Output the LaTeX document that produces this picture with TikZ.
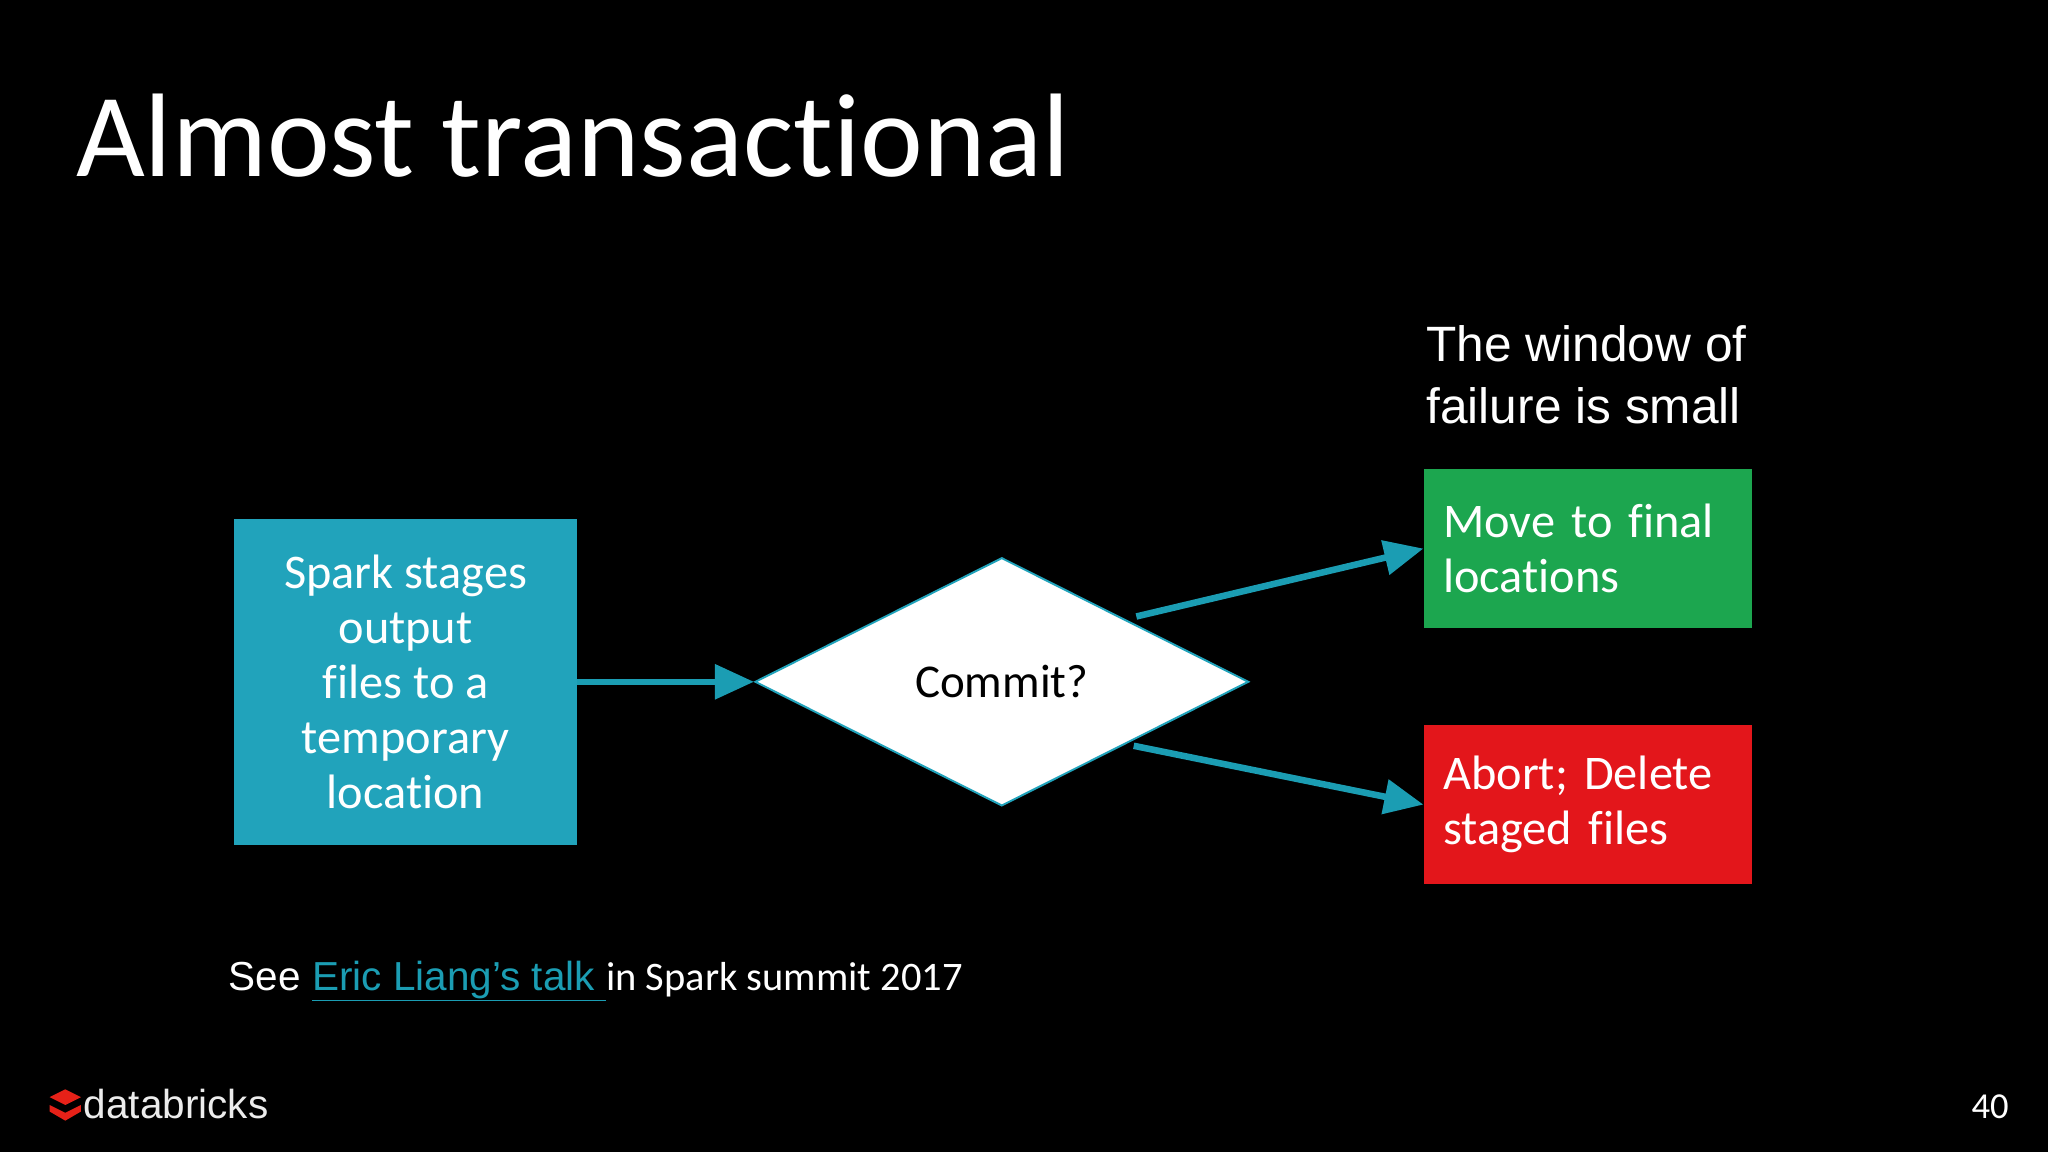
\documentclass[tikz,border=0pt]{standalone}
\usepackage{fontspec}
\setmainfont[Ligatures=NoCommon]{Carlito}
\newfontfamily\arial{Liberation Sans}
\usetikzlibrary{arrows.meta,shapes.geometric}
\definecolor{teal}{HTML}{21A3BB}
\definecolor{arr}{HTML}{1B9DB3}
\definecolor{grn}{HTML}{1CA64F}
\definecolor{rd}{HTML}{E3161B}
\begin{document}
\begin{tikzpicture}[x=1pt,y=-1pt,
  box/.style={minimum width=262pt,inner sep=0pt,text=white,font=\fontsize{37}{42}\selectfont},
  conn/.style={draw=arr,line width=5pt,-{Triangle[length=30pt,width=26pt]}}]
\fill[black] (0,0) rectangle (1568,882);
\useasboundingbox (0,0) rectangle (1568,882);
\node[anchor=base west,text=white,inner sep=0,font=\fontsize{91}{100}\selectfont] (title) at (58,135) {Almost transactional};
\node[box,fill=teal,minimum height=250pt,align=center] (src) at (310.5,522) {Spark stages\\output\\files to a\\temporary\\location};
\node[draw=teal,line width=1.5pt,fill=white,diamond,aspect=2,minimum width=378pt,minimum height=190pt,inner sep=0pt,font=\fontsize{36}{40}\selectfont] (dec) at (767,522) {Commit?};
\node[box,fill=grn,minimum width=251pt,minimum height=122pt,align=left,text width=221pt] (mv) at (1215.5,420) {Move to final\\locations};
\node[box,fill=rd,minimum width=251pt,minimum height=122pt,align=left,text width=221pt] (ab) at (1215.5,616) {Abort; Delete\\staged files};
\node[anchor=base west,inner sep=0,text=white,align=left,font=\arial\fontsize{38}{47}\selectfont] (win) at (1092,324) {The window of\\failure is small};
\coordinate (a2s) at (870,472);
\coordinate (a3s) at (868,571);
\draw[conn] (src.east) -- (dec.west);
\draw[conn] (a2s) -- (mv.west);
\draw[conn] (a3s) -- (ab.west);
\node[anchor=base west,inner sep=0,text=white,font=\fontsize{31}{34}\selectfont] (see) at (175,758) {{\arial See }{\arial\color{arr}\underline{Eric Liang’s talk }}in Spark summit 2017};
\node[anchor=base east,inner sep=0,text=white,font=\fontsize{28}{30}\selectfont] (pg) at (1538,856) {40};
\fill[rd!90!orange] (38,840) -- (50,834) -- (62,840) -- (50,846) -- cycle;
\fill[rd!90!orange] (38,846) -- (50,852) -- (62,846) -- (62,851) -- (50,858) -- (38,851) -- cycle;
\node[anchor=base west,inner sep=0,text=white!85!gray,font=\arial\fontsize{31}{32}\selectfont] (logo) at (64,856) {databricks};
\end{tikzpicture}
\end{document}
